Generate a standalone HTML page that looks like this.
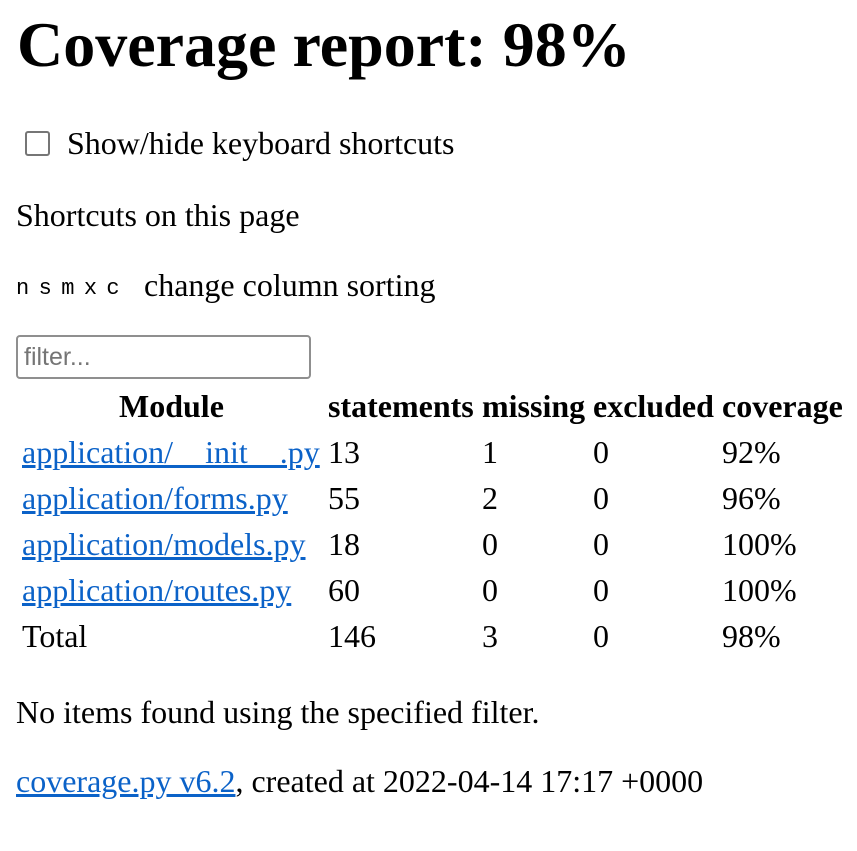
<!DOCTYPE html>
<html><head><meta charset="utf-8"><style>
body{margin:0;width:857px;height:851px;background:#fff;position:relative;font-family:"Liberation Serif",serif;color:#000;overflow:hidden}
.a{position:absolute;white-space:nowrap;font-size:32px;line-height:32px}
a{color:#0b62c8;text-decoration:underline}
</style></head><body>
<div class="a" style="left:17px;top:13px;font-size:64px;line-height:64px;font-weight:bold">Coverage report: 98%</div>
<div class="a" style="left:25px;top:131px;width:21px;height:21px;border:2px solid #767676;border-radius:3px"></div>
<div class="a" style="left:67px;top:127px">Show/hide keyboard shortcuts</div>
<div class="a" style="left:16px;top:199px">Shortcuts on this page</div>
<div class="a" style="left:16px;top:278px;font-family:'Liberation Mono',monospace;font-size:22px;line-height:22px;letter-spacing:-1.9px">n s m x c</div>
<div class="a" style="left:144px;top:269px">change column sorting</div>
<div class="a" style="left:16px;top:335px;width:285px;height:40px;border:2px solid #8f8f8f;border-radius:4px;font-family:'Liberation Sans',sans-serif;font-size:25px;line-height:40px;color:#757575;padding-left:6px">filter...</div>
<div class="a" style="left:119px;top:390px;font-weight:bold">Module</div>
<div class="a" style="left:328px;top:390px;font-weight:bold">statements</div>
<div class="a" style="left:482px;top:390px;font-weight:bold">missing</div>
<div class="a" style="left:593px;top:390px;font-weight:bold">excluded</div>
<div class="a" style="left:722px;top:390px;font-weight:bold">coverage</div>

<div class="a" style="left:22px;top:436px"><a>application/__init__.py</a></div>
<div class="a" style="left:328px;top:436px">13</div>
<div class="a" style="left:482px;top:436px">1</div>
<div class="a" style="left:593px;top:436px">0</div>
<div class="a" style="left:722px;top:436px">92%</div>

<div class="a" style="left:22px;top:482px"><a>application/forms.py</a></div>
<div class="a" style="left:328px;top:482px">55</div>
<div class="a" style="left:482px;top:482px">2</div>
<div class="a" style="left:593px;top:482px">0</div>
<div class="a" style="left:722px;top:482px">96%</div>

<div class="a" style="left:22px;top:528px"><a>application/models.py</a></div>
<div class="a" style="left:328px;top:528px">18</div>
<div class="a" style="left:482px;top:528px">0</div>
<div class="a" style="left:593px;top:528px">0</div>
<div class="a" style="left:722px;top:528px">100%</div>

<div class="a" style="left:22px;top:574px"><a>application/routes.py</a></div>
<div class="a" style="left:328px;top:574px">60</div>
<div class="a" style="left:482px;top:574px">0</div>
<div class="a" style="left:593px;top:574px">0</div>
<div class="a" style="left:722px;top:574px">100%</div>

<div class="a" style="left:22px;top:620px">Total</div>
<div class="a" style="left:328px;top:620px">146</div>
<div class="a" style="left:482px;top:620px">3</div>
<div class="a" style="left:593px;top:620px">0</div>
<div class="a" style="left:722px;top:620px">98%</div>

<div class="a" style="left:16px;top:696px">No items found using the specified filter.</div>
<div class="a" style="left:16px;top:765px"><a>coverage.py v6.2</a>, created at 2022-04-14 17:17 +0000</div>
</body></html>
